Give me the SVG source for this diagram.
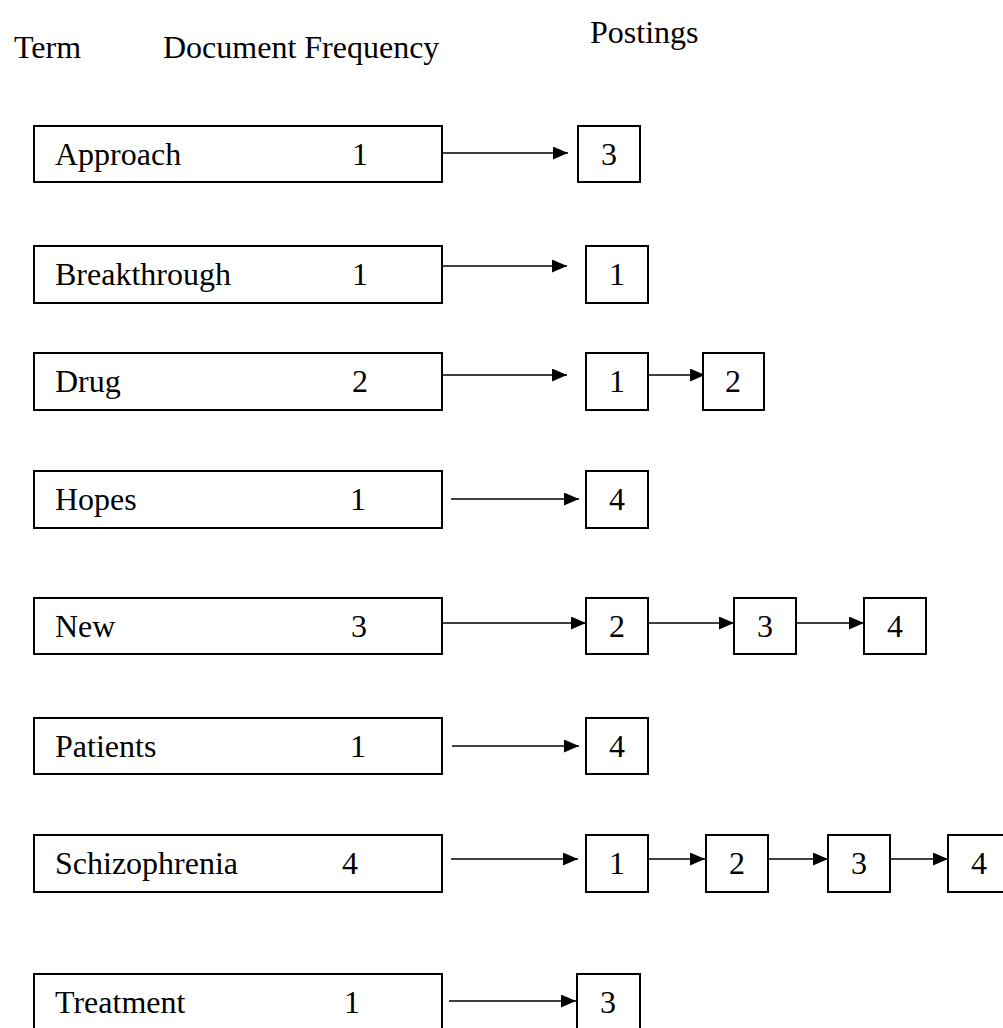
<svg xmlns="http://www.w3.org/2000/svg" width="1003" height="1028" viewBox="0 0 1003 1028">
<style>
text{font-family:"Liberation Serif","Times New Roman",serif;font-size:32px;fill:#000}
.box{fill:#fff;stroke:#000;stroke-width:2}
.arr{stroke:#000;stroke-width:1.6;fill:none;marker-end:url(#ah)}
.c{text-anchor:middle}
</style>
<defs>
<marker id="ah" markerUnits="userSpaceOnUse" markerWidth="16" markerHeight="14" refX="15" refY="6.5" orient="auto">
<path d="M0,0 L15,6.5 L0,13 Z" fill="#000"/>
</marker>
</defs>
<rect width="1003" height="1028" fill="#fff"/>
<g id="headers">
<text x="14" y="58">Term</text>
<text x="163" y="58">Document Frequency</text>
<text x="590" y="43">Postings</text>
</g>
<g id="connectors">
<line class="arr" x1="442" y1="153" x2="568" y2="153"/>
<line class="arr" x1="442" y1="266" x2="567" y2="266"/>
<line class="arr" x1="442" y1="375" x2="567" y2="375"/>
<line class="arr" x1="649" y1="375" x2="705" y2="375"/>
<line class="arr" x1="451" y1="499" x2="579" y2="499"/>
<line class="arr" x1="442" y1="623" x2="586" y2="623"/>
<line class="arr" x1="649" y1="623" x2="734" y2="623"/>
<line class="arr" x1="797" y1="623" x2="864" y2="623"/>
<line class="arr" x1="452" y1="746" x2="579" y2="746"/>
<line class="arr" x1="451" y1="859" x2="578" y2="859"/>
<line class="arr" x1="649" y1="859" x2="705" y2="859"/>
<line class="arr" x1="769" y1="859" x2="828" y2="859"/>
<line class="arr" x1="891" y1="859" x2="948" y2="859"/>
<line class="arr" x1="449" y1="1001" x2="576" y2="1001"/>
</g>
<g id="term-approach"><rect class="box" x="34" y="126" width="408" height="56"/><text x="55" y="165">Approach</text><text x="352" y="165">1</text></g>
<g id="post-approach-3"><rect class="box" x="578" y="126" width="62" height="56"/><text class="c" x="609" y="165">3</text></g>
<g id="term-breakthrough"><rect class="box" x="34" y="246" width="408" height="57"/><text x="55" y="285">Breakthrough</text><text x="352" y="285">1</text></g>
<g id="post-breakthrough-1"><rect class="box" x="586" y="246" width="62" height="57"/><text class="c" x="617" y="285">1</text></g>
<g id="term-drug"><rect class="box" x="34" y="353" width="408" height="57"/><text x="55" y="392">Drug</text><text x="352" y="392">2</text></g>
<g id="post-drug-1"><rect class="box" x="586" y="353" width="62" height="57"/><text class="c" x="617" y="392">1</text></g>
<g id="post-drug-2"><rect class="box" x="703" y="353" width="61" height="57"/><text class="c" x="733" y="392">2</text></g>
<g id="term-hopes"><rect class="box" x="34" y="471" width="408" height="57"/><text x="55" y="510">Hopes</text><text x="350" y="510">1</text></g>
<g id="post-hopes-4"><rect class="box" x="586" y="471" width="62" height="57"/><text class="c" x="617" y="510">4</text></g>
<g id="term-new"><rect class="box" x="34" y="598" width="408" height="56"/><text x="55" y="637">New</text><text x="351" y="637">3</text></g>
<g id="post-new-2"><rect class="box" x="586" y="598" width="62" height="56"/><text class="c" x="617" y="637">2</text></g>
<g id="post-new-3"><rect class="box" x="734" y="598" width="62" height="56"/><text class="c" x="765" y="637">3</text></g>
<g id="post-new-4"><rect class="box" x="864" y="598" width="62" height="56"/><text class="c" x="895" y="637">4</text></g>
<g id="term-patients"><rect class="box" x="34" y="718" width="408" height="56"/><text x="55" y="757">Patients</text><text x="350" y="757">1</text></g>
<g id="post-patients-4"><rect class="box" x="586" y="718" width="62" height="56"/><text class="c" x="617" y="757">4</text></g>
<g id="term-schizophrenia"><rect class="box" x="34" y="835" width="408" height="57"/><text x="55" y="874">Schizophrenia</text><text x="342" y="874">4</text></g>
<g id="post-schizophrenia-1"><rect class="box" x="586" y="835" width="62" height="57"/><text class="c" x="617" y="874">1</text></g>
<g id="post-schizophrenia-2"><rect class="box" x="706" y="835" width="62" height="57"/><text class="c" x="737" y="874">2</text></g>
<g id="post-schizophrenia-3"><rect class="box" x="828" y="835" width="62" height="57"/><text class="c" x="859" y="874">3</text></g>
<g id="post-schizophrenia-4"><rect class="box" x="948" y="835" width="62" height="57"/><text class="c" x="979" y="874">4</text></g>
<g id="term-treatment"><rect class="box" x="34" y="974" width="408" height="58"/><text x="55" y="1013">Treatment</text><text x="344" y="1013">1</text></g>
<g id="post-treatment-3"><rect class="box" x="577" y="974" width="63" height="58"/><text class="c" x="608" y="1013">3</text></g>
</svg>
